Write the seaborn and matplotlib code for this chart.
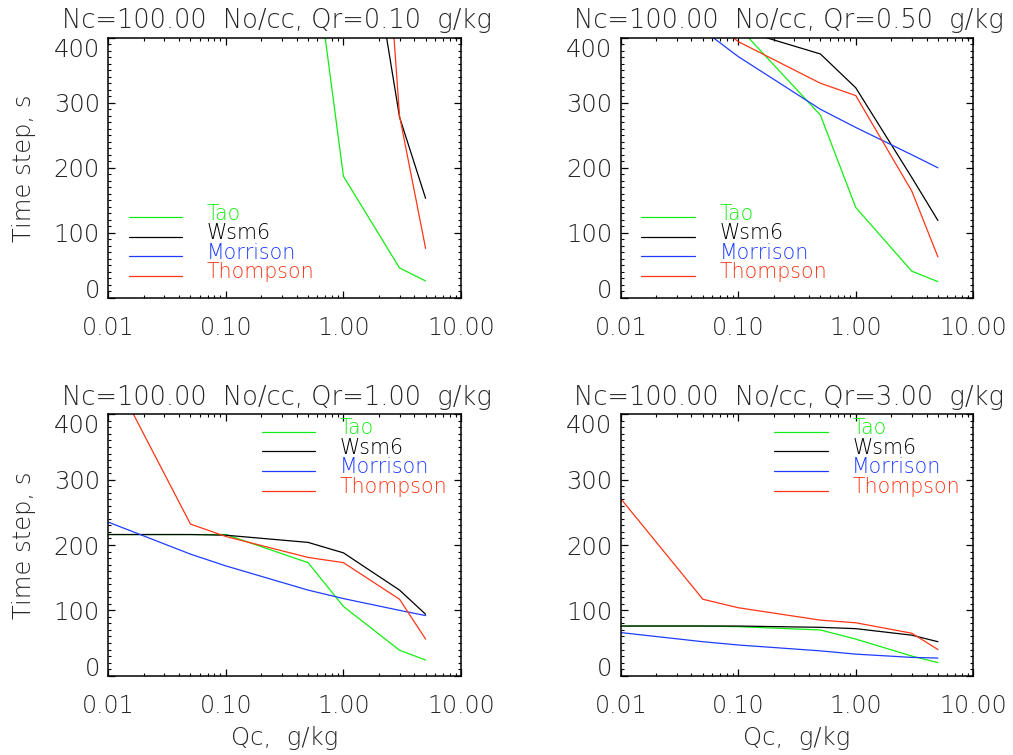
import numpy as np
import pandas as pd
import matplotlib
matplotlib.use("Agg")
import matplotlib.pyplot as plt
from matplotlib.ticker import LogLocator, MultipleLocator, FixedLocator, FuncFormatter, NullFormatter
from matplotlib.lines import Line2D
from matplotlib.legend_handler import HandlerLine2D
import seaborn as sns

# ---------------- data ----------------
qc = [0.01, 0.05, 0.1, 0.5, 1.0, 3.0, 5.0]          # cloud water, g/kg
models = ["Tao", "Wsm6", "Morrison", "Thompson"]
qr_values = [0.10, 0.50, 1.00, 3.00]                 # rain water, g/kg
nc_value = 100.00

# Time step (s); NaN = off the top of the plot (not visible)
nan = np.nan
tao_qr010 = [nan, nan, nan, 600, 187, 46, 26]
wsm6_qr010 = [nan, nan, nan, nan, 808, 278, 153]
morrison_qr010 = [nan, nan, nan, nan, nan, nan, nan]
thompson_qr010 = [nan, nan, nan, nan, 1500, 280, 76]

tao_qr050 = [nan, 460, 417, 281, 139, 41, 25]
wsm6_qr050 = [nan, 450, 413, 375, 323, 185, 119]
morrison_qr050 = [nan, 412, 371, 290, 262, 220, 200]
thompson_qr050 = [nan, 437, 394, 330, 311, 164, 63]

tao_qr100 = [216, 216, 216, 173, 106, 39, 24]
wsm6_qr100 = [216, 216, 215, 204, 188, 131, 94]
morrison_qr100 = [235, 186, 168, 131, 118, 100, 92]
thompson_qr100 = [474, 232, 213, 181, 173, 117, 56]

tao_qr300 = [76, 76, 75, 70, 56, 30, 20]
wsm6_qr300 = [76, 76, 76, 74, 72, 62, 52]
morrison_qr300 = [66, 52, 47, 38, 33, 28, 27]
thompson_qr300 = [271, 117, 104, 85, 81, 65, 40]

series = {
    0.10: [tao_qr010, wsm6_qr010, morrison_qr010, thompson_qr010],
    0.50: [tao_qr050, wsm6_qr050, morrison_qr050, thompson_qr050],
    1.00: [tao_qr100, wsm6_qr100, morrison_qr100, thompson_qr100],
    3.00: [tao_qr300, wsm6_qr300, morrison_qr300, thompson_qr300],
}

x_ticks = [0.01, 0.1, 1.0, 10.0]
y_ticks = [0, 100, 200, 300, 400]

palette = {"Tao": "#12ee12", "Wsm6": "#000000", "Morrison": "#1e3cff", "Thompson": "#ff3515"}

# ---------------- style ----------------
sns.set_theme(style="white")
plt.rcParams["font.family"] = ["DejaVu Sans"]
plt.rcParams["font.weight"] = "light"
plt.rcParams["axes.titleweight"] = "light"
plt.rcParams["axes.labelweight"] = "light"
text_col = "#262626"

fig = plt.figure(figsize=(10.13, 7.55), dpi=100)
W, H = 1013.0, 755.0
boxes = [
    (108.3, 37.7, 461.0, 297.9),
    (620.7, 37.7, 973.3, 297.9),
    (108.3, 414.3, 461.0, 675.7),
    (620.7, 414.3, 973.3, 675.7),
]


class LowLine(HandlerLine2D):
    def create_artists(self, legend, orig_handle, xdescent, ydescent,
                       width, height, fontsize, trans):
        arts = super().create_artists(legend, orig_handle, xdescent, ydescent,
                                      width, height, fontsize, trans)
        for a in arts:
            if isinstance(a, Line2D):
                y = a.get_ydata()
                a.set_ydata(np.asarray(y) - 3.5)
        return arts


for i, qr in enumerate(qr_values):
    l, t, r, b = boxes[i]
    ax = fig.add_axes([l / W, 1 - b / H, (r - l) / W, (b - t) / H])
    rows = []
    for m, vals in zip(models, series[qr]):
        for x, v in zip(qc, vals):
            rows.append({"Qc": x, "dt": v, "model": m})
    df = pd.DataFrame(rows).dropna()
    sns.lineplot(data=df, x="Qc", y="dt", hue="model", hue_order=models,
                 palette=palette, estimator=None, sort=True, legend=False,
                 linewidth=0.9, ax=ax)
    ax.set_xscale("log")
    ax.set_xlim(0.01, 10)
    ax.set_ylim(0, 400)
    ax.xaxis.set_major_locator(FixedLocator(x_ticks))
    ax.xaxis.set_major_formatter(FuncFormatter(lambda v, p: f"{v:.2f}"))
    ax.xaxis.set_minor_locator(LogLocator(base=10, subs=np.arange(2, 10)))
    ax.xaxis.set_minor_formatter(NullFormatter())
    ax.yaxis.set_major_locator(FixedLocator(y_ticks))
    ax.yaxis.set_minor_locator(MultipleLocator(10))
    ax.tick_params(which="both", direction="in", top=True, right=True,
                   bottom=True, left=True, colors="black", labelcolor=text_col)
    ax.tick_params(which="major", length=5, width=0.9)
    ax.tick_params(which="minor", length=2.2, width=0.8)
    ax.tick_params(axis="x", which="major", labelsize=17, pad=13)
    ax.tick_params(axis="y", which="major", labelsize=17.5, pad=6)
    # IDL-style: end labels kept inside the axis range
    yt = ax.yaxis.get_major_ticks()
    yt[0].label1.set_verticalalignment("baseline")
    yt[-1].label1.set_verticalalignment("top")
    for s in ax.spines.values():
        s.set_color("black")
        s.set_linewidth(1.1)
    ax.set_title(f"Nc={nc_value:.2f}  No/cc, Qr={qr:.2f}  g/kg",
                 fontsize=18.5, color=text_col, pad=7, x=0.478)
    if i in (0, 2):
        ax.set_ylabel("Time step, s", fontsize=17.5, color=text_col, labelpad=13)
    else:
        ax.set_ylabel("")
    if i in (2, 3):
        ax.set_xlabel("Qc,  g/kg", fontsize=17.5, color=text_col, labelpad=6)
    else:
        ax.set_xlabel("")

    handles = [Line2D([], [], color=palette[m], lw=0.9) for m in models]
    if i < 2:
        loc, anchor = "lower left", (0.058, 0.06)
    else:
        loc, anchor = "upper left", (0.435, 0.985)
    leg = ax.legend(handles, models, loc=loc, bbox_to_anchor=anchor,
                    frameon=False, fontsize=14.8, handlelength=2.6,
                    handletextpad=1.2, labelspacing=-0.02, borderpad=0,
                    borderaxespad=0, handler_map={Line2D: LowLine()})
    for txt, m in zip(leg.get_texts(), models):
        txt.set_color(palette[m])

fig.savefig("out.png", dpi=100)
